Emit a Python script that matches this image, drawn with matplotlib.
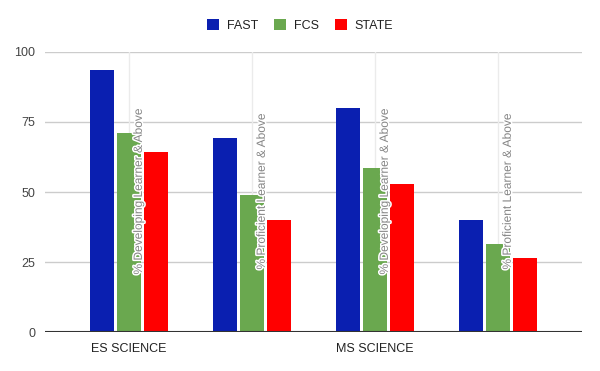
import matplotlib
matplotlib.use("Agg")
import matplotlib.pyplot as plt
import matplotlib.patheffects as pe
from matplotlib.patches import Patch
import numpy as np

plt.rcParams['font.family'] = ['Liberation Sans', 'DejaVu Sans']

groups = ["ES SCIENCE", "", "MS SCIENCE", ""]
annotations = ["% Developing Learner & Above", "% Proficient Learner & Above",
               "% Developing Learner & Above", "% Proficient Learner & Above"]
series_names = ["FAST", "FCS", "STATE"]
fast = [93.6, 69.3, 80.0, 40.0]
fcs = [71.1, 48.9, 58.6, 31.4]
state = [64.3, 40.0, 52.9, 26.4]
colors = ["#0a1fb0", "#6aa84f", "#ff0000"]
yticks = [0, 25, 50, 75, 100]

fig = plt.figure(figsize=(6, 3.71), dpi=100)
ax = fig.add_axes([0.075, 0.1043, 0.895, 0.7563])

x = np.arange(len(groups))
width = 0.2
step = 0.22
for i, (vals, col, name) in enumerate(zip([fast, fcs, state], colors, series_names)):
    ax.bar(x + (i - 1) * step, vals, width=width, color=col, zorder=3, label=name)

for xi, txt in zip(x, annotations):
    ax.text(xi + 0.08, 50, txt, rotation=90, ha='center', va='center',
            fontsize=8.6, color='#858585', zorder=5,
            path_effects=[pe.withStroke(linewidth=2.2, foreground='white')])

ax.set_xlim(-0.683, 3.683)
ax.set_ylim(0, 100)
ax.set_yticks(yticks)
ax.set_yticklabels([str(v) for v in yticks], fontsize=9, color='#444444')
ax.set_xticks(x)
ax.set_xticklabels(groups, fontsize=9, color='#222222')
ax.tick_params(axis='both', length=0)
ax.tick_params(axis='y', pad=7)
ax.tick_params(axis='x', pad=8)

for v in yticks[1:]:
    ax.axhline(v, color='#cccccc', linewidth=1, zorder=1)
for xi in x:
    ax.axvline(xi, color='#ebebeb', linewidth=1, zorder=1)
ax.axhline(0, color='#333333', linewidth=1.5, zorder=4)

for s in ax.spines.values():
    s.set_visible(False)

handles = [Patch(facecolor=c, edgecolor='none') for c in colors]
fig.legend(handles, series_names, loc='center', bbox_to_anchor=(0.5, 1 - 25.7 / 371),
           ncol=3, frameon=False, fontsize=9, handlelength=0.96, handleheight=0.96,
           handletextpad=0.64, columnspacing=1.28, labelcolor='#222222')

fig.savefig("out.png", dpi=100, facecolor='white')
